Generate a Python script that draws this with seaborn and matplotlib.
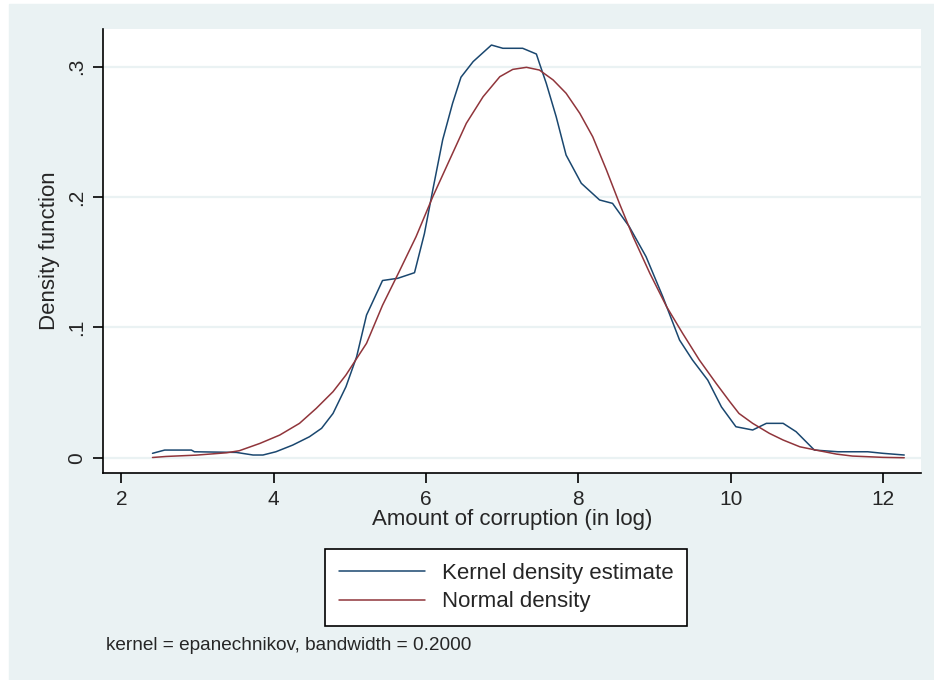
import matplotlib
matplotlib.use('Agg')
import matplotlib.pyplot as plt
import seaborn as sns
from matplotlib.patches import Rectangle

# values
kde_x = [2.41, 2.57, 2.92, 2.96, 3.51, 3.73, 3.86, 4.03, 4.25, 4.47, 4.63, 4.78, 4.95,
         5.09, 5.22, 5.28, 5.43, 5.63, 5.85, 5.98, 6.09, 6.22, 6.35, 6.46, 6.62, 6.86,
         7.01, 7.27, 7.45, 7.49, 7.58, 7.71, 7.84, 8.04, 8.28, 8.45, 8.67, 8.89, 9.11,
         9.33, 9.50, 9.70, 9.88, 10.07, 10.29, 10.47, 10.69, 10.86, 11.10, 11.41, 11.80,
         12.00, 12.28]
kde_y = [0.0034, 0.0059, 0.0059, 0.0046, 0.0041, 0.0021, 0.0021, 0.0046, 0.0097, 0.0161,
         0.0226, 0.034, 0.0545, 0.0775, 0.1095, 0.117, 0.136, 0.1377, 0.142, 0.172, 0.2055,
         0.244, 0.272, 0.292, 0.304, 0.3167, 0.3142, 0.3142, 0.3098, 0.3027, 0.2873, 0.2617,
         0.2323, 0.2106, 0.1978, 0.1952, 0.1773, 0.1543, 0.1236, 0.0903, 0.075, 0.0596,
         0.039, 0.0238, 0.0213, 0.0264, 0.0264, 0.020, 0.0059, 0.0046, 0.0046, 0.0034, 0.0021]

norm_x = [2.41, 2.59, 2.98, 3.38, 3.55, 3.82, 4.08, 4.34, 4.56, 4.78, 4.95, 5.22, 5.43,
          5.65, 5.87, 6.09, 6.31, 6.53, 6.75, 6.97, 7.14, 7.32, 7.49, 7.67, 7.84, 8.02,
          8.19, 8.37, 8.54, 8.72, 8.94, 9.16, 9.37, 9.59, 9.81, 9.99, 10.11, 10.29, 10.51,
          10.69, 10.91, 11.12, 11.39, 11.60, 12.00, 12.28]
norm_y = [0.0002, 0.001, 0.002, 0.0038, 0.0054, 0.011, 0.0174, 0.0264, 0.0379, 0.0507,
          0.0635, 0.0878, 0.117, 0.143, 0.1696, 0.2003, 0.2285, 0.2566, 0.277, 0.2924,
          0.298, 0.2996, 0.2975, 0.2899, 0.2797, 0.2643, 0.2463, 0.2208, 0.1952, 0.1696,
          0.1415, 0.1159, 0.0955, 0.075, 0.0571, 0.0430, 0.034, 0.0264, 0.0187, 0.0136,
          0.0084, 0.0059, 0.0028, 0.0013, 0.0003, 0.0]

x_ticks = [2, 4, 6, 8, 10, 12]
y_ticks = [0, 0.1, 0.2, 0.3]
y_tick_labels = ['0', '.1', '.2', '.3']

BG = '#EAF2F3'
NAVY = '#1A476F'
MAROON = '#90353B'

sns.set_style('white')
plt.rcParams['font.family'] = ['Liberation Sans', 'DejaVu Sans']

fig = plt.figure(figsize=(9.34, 6.8), dpi=100)
fig.patches.append(Rectangle((9 / 934, 0), 1, 1 - 4 / 680, transform=fig.transFigure,
                             color=BG, zorder=-10))

ax = fig.add_axes([103 / 934, 1 - 473 / 680, (921 - 103) / 934, (473 - 29) / 680])
ax.set_facecolor('white')

sns.lineplot(x=kde_x, y=kde_y, ax=ax, color=NAVY, linewidth=1.1, sort=False,
             label='Kernel density estimate')
sns.lineplot(x=norm_x, y=norm_y, ax=ax, color=MAROON, linewidth=1.1, sort=False,
             label='Normal density')

ax.set_xlim(1.76, 12.5)
ax.set_ylim(-0.0117, 0.329)
ax.set_xticks(x_ticks)
ax.set_yticks(y_ticks)
ax.set_yticklabels(y_tick_labels, rotation=90, va='center')
ax.grid(axis='y', color=BG, linewidth=1.6)
ax.set_axisbelow(True)

for side in ['top', 'right']:
    ax.spines[side].set_visible(False)
for side in ['left', 'bottom']:
    ax.spines[side].set_color('black')
    ax.spines[side].set_linewidth(1.2)
ax.tick_params(axis='both', direction='out', length=7, width=1.2, color='black',
               labelsize=15, pad=5, left=True, bottom=True)

ax.set_xlabel('Amount of corruption (in log)', fontsize=16, labelpad=0)
ax.set_ylabel('Density function', fontsize=16, labelpad=5)

ax.get_legend().remove()
handles, labels = ax.get_legend_handles_labels()
leg = fig.legend(handles, labels, loc='center', bbox_to_anchor=(506 / 934, 1 - 587.5 / 680),
                 fontsize=16, frameon=True, fancybox=False, edgecolor='black',
                 framealpha=1, handlelength=3.9, handletextpad=0.75, borderpad=0.6,
                 labelspacing=0.35, borderaxespad=0)
leg.get_frame().set_linewidth(1.2)

fig.text(106 / 934, 1 - 646 / 680, 'kernel = epanechnikov, bandwidth = 0.2000',
         fontsize=13.7, ha='left', va='center')

fig.savefig('out.png', dpi=100)
